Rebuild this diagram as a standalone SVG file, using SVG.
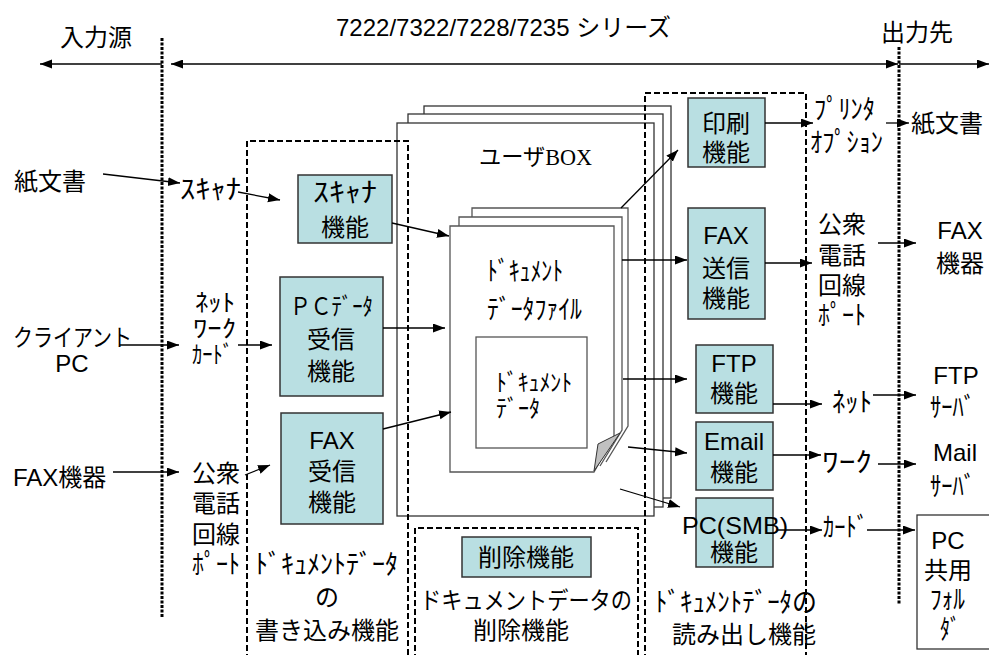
<svg xmlns="http://www.w3.org/2000/svg" width="989" height="655" viewBox="0 0 989 655">
<defs>
<style>
text{font-family:"Liberation Sans","Noto Sans CJK JP",sans-serif;font-size:24px;fill:#000;dominant-baseline:central}
.m{text-anchor:middle}
.h{font-size:27px}
.k{font-size:24px}
.s{font-family:"Liberation Serif","Noto Sans CJK JP",serif;font-size:23px}
.fn{fill:#b9dfe2;stroke:#333;stroke-width:1.5}
.pg{fill:#fff;stroke:#333;stroke-width:1.3}
.dp{fill:#fff;stroke:#555;stroke-width:1.3}
.dot{fill:none;stroke:#000;stroke-width:3;stroke-dasharray:3 1.5}
.dash{fill:none;stroke:#000;stroke-width:2;stroke-dasharray:6 3}
.c{fill:none;stroke:#000;stroke-width:1.3;marker-end:url(#ah)}
</style>
<marker id="ah" markerUnits="userSpaceOnUse" markerWidth="13" markerHeight="10" refX="12" refY="4.5" orient="auto"><path d="M0,0 L12,4.5 L0,9 z" fill="#000"/></marker>
<marker id="ahs" markerUnits="userSpaceOnUse" markerWidth="8" markerHeight="7" refX="7" refY="3" orient="auto"><path d="M0,0 L7,3 L0,6 z" fill="#000"/></marker>
<marker id="as" markerUnits="userSpaceOnUse" markerWidth="13" markerHeight="10" refX="0" refY="4.5" orient="auto"><path d="M12,0 L0,4.5 L12,9 z" fill="#000"/></marker>
</defs>

<!-- headers -->
<g id="headers">
<text x="96" y="37" class="m">入力源</text>
<text x="336" y="27" font-size="23">7222/7322/7228/7235 シリーズ</text>
<text x="917" y="32" class="m">出力先</text>
</g>

<!-- divider lines -->
<g id="dividers">
<line x1="162" y1="38" x2="162" y2="617" class="dot"/>
<line x1="899" y1="47" x2="899" y2="605" class="dot"/>
</g>

<!-- user box stack -->
<g id="userbox">
<rect x="424" y="106" width="247" height="392" class="pg"/>
<rect x="408" y="114" width="255" height="393" class="pg"/>
<rect x="397" y="123" width="257" height="393" class="pg"/>
<text x="479" y="157" class="s" textLength="113" lengthAdjust="spacingAndGlyphs">ユーザBOX</text>
</g>

<!-- document data file stack -->
<g id="docfile">
<path d="M472,217 V208 H628 V426 L606,462" class="dp"/>
<path d="M459,226 V217 H622 V430 L600,466" class="dp"/>
<path d="M450,226 H614 V436 L594,472 H450 Z" class="dp"/>
<path d="M598,444 L620,433 L594,471 Z" fill="#c0c0c0" stroke="#333" stroke-width="1"/>
<text x="487" y="272" class="h" textLength="76" lengthAdjust="spacingAndGlyphs">ﾄﾞｷｭﾒﾝﾄ</text>
<text x="487" y="310" class="h" textLength="95" lengthAdjust="spacingAndGlyphs">ﾃﾞｰﾀﾌｧｲﾙ</text>
</g>
<g id="docdata">
<rect x="476" y="337" width="111" height="111" fill="#fff" stroke="#555" stroke-width="1.3"/>
<text x="496" y="382" class="k" textLength="76" lengthAdjust="spacingAndGlyphs">ﾄﾞｷｭﾒﾝﾄ</text>
<text x="496" y="408" class="k" textLength="44" lengthAdjust="spacingAndGlyphs">ﾃﾞｰﾀ</text>
</g>

<!-- dashed function groups -->
<g id="writegroup">
<path d="M247,660 V141 H408 V660" class="dash"/>
<text x="255" y="565" class="h" textLength="143" lengthAdjust="spacingAndGlyphs">ﾄﾞｷｭﾒﾝﾄﾃﾞｰﾀ</text>
<text x="327" y="597" class="m">の</text>
<text x="327" y="630" class="m">書き込み機能</text>
</g>
<g id="deletegroup">
<path d="M415,660 V528 H638 V660" class="dash"/>
<text x="420" y="600" textLength="212" lengthAdjust="spacingAndGlyphs">ドキュメントデータの</text>
<text x="521" y="630" class="m">削除機能</text>
</g>
<g id="readgroup">
<path d="M645,660 V93 H806 V660" class="dash"/>
<text x="655" y="603" class="h" textLength="162" lengthAdjust="spacingAndGlyphs">ﾄﾞｷｭﾒﾝﾄﾃﾞｰﾀの</text>
<text x="744" y="634" class="m">読み出し機能</text>
</g>

<!-- function boxes -->
<g id="scan-fn">
<rect x="298" y="175" width="94" height="68" class="fn"/>
<text x="313" y="193" class="h" textLength="64" lengthAdjust="spacingAndGlyphs">ｽｷｬﾅ</text>
<text x="345" y="227" class="m">機能</text>
</g>
<g id="pc-recv-fn">
<rect x="280" y="277" width="103" height="119" class="fn"/>
<text x="290" y="306" textLength="83" lengthAdjust="spacingAndGlyphs">ＰＣﾃﾞｰﾀ</text>
<text x="331" y="339" class="m">受信</text>
<text x="331" y="371" class="m">機能</text>
</g>
<g id="fax-recv-fn">
<rect x="281" y="413" width="102" height="111" class="fn"/>
<text x="332" y="440" class="m">FAX</text>
<text x="332" y="471" class="m">受信</text>
<text x="332" y="502" class="m">機能</text>
</g>
<g id="delete-fn">
<rect x="462" y="537" width="129" height="40" class="fn"/>
<text x="526" y="557" class="m">削除機能</text>
</g>
<g id="print-fn">
<rect x="688" y="98" width="77" height="69" class="fn"/>
<text x="726" y="123" class="m">印刷</text>
<text x="726" y="152" class="m">機能</text>
</g>
<g id="fax-send-fn">
<rect x="688" y="208" width="77" height="111" class="fn"/>
<text x="726" y="235" class="m">FAX</text>
<text x="726" y="268" class="m">送信</text>
<text x="726" y="298" class="m">機能</text>
</g>
<g id="ftp-fn">
<rect x="696" y="345" width="77" height="68" class="fn"/>
<text x="734" y="363" class="m">FTP</text>
<text x="734" y="393" class="m">機能</text>
</g>
<g id="email-fn">
<rect x="696" y="422" width="77" height="68" class="fn"/>
<text x="734" y="441" class="m">Email</text>
<text x="734" y="472" class="m">機能</text>
</g>
<g id="smb-fn">
<rect x="696" y="498" width="77" height="69" class="fn"/>
<text x="682" y="525" textLength="106" lengthAdjust="spacingAndGlyphs">PC(SMB)</text>
<text x="734" y="552" class="m">機能</text>
</g>

<!-- sources and ports -->
<g id="src-paper"><text x="50" y="181" class="m">紙文書</text></g>
<g id="src-client"><text x="13" y="337" textLength="119" lengthAdjust="spacingAndGlyphs">クライアント</text><text x="72" y="363" class="m">PC</text></g>
<g id="src-fax"><text x="13" y="477">FAX機器</text></g>
<g id="port-scanner"><text x="180" y="190" class="h" textLength="61" lengthAdjust="spacingAndGlyphs">ｽｷｬﾅ</text></g>
<g id="port-nic-in">
<text x="195" y="302" class="k" textLength="40" lengthAdjust="spacingAndGlyphs">ﾈｯﾄ</text>
<text x="193" y="328" class="k" textLength="43" lengthAdjust="spacingAndGlyphs">ﾜｰｸ</text>
<text x="192" y="354" class="k" textLength="41" lengthAdjust="spacingAndGlyphs">ｶｰﾄﾞ</text>
</g>
<g id="port-tel-in">
<text x="216" y="473" class="m">公衆</text>
<text x="216" y="503" class="m">電話</text>
<text x="216" y="534" class="m">回線</text>
<text x="192" y="565" class="h" textLength="48" lengthAdjust="spacingAndGlyphs">ﾎﾟｰﾄ</text>
</g>
<g id="port-printer">
<text x="814" y="110" class="h" textLength="61" lengthAdjust="spacingAndGlyphs">ﾌﾟﾘﾝﾀ</text>
<text x="810" y="143" class="h" textLength="73" lengthAdjust="spacingAndGlyphs">ｵﾌﾟｼｮﾝ</text>
</g>
<g id="port-tel-out">
<text x="842" y="224" class="m">公衆</text>
<text x="842" y="255" class="m">電話</text>
<text x="842" y="285" class="m">回線</text>
<text x="818" y="316" class="h" textLength="48" lengthAdjust="spacingAndGlyphs">ﾎﾟｰﾄ</text>
</g>
<g id="port-nic-out">
<text x="832" y="403" class="h" textLength="40" lengthAdjust="spacingAndGlyphs">ﾈｯﾄ</text>
<text x="822" y="463" class="h" textLength="50" lengthAdjust="spacingAndGlyphs">ﾜｰｸ</text>
<text x="823" y="528" class="h" textLength="45" lengthAdjust="spacingAndGlyphs">ｶｰﾄﾞ</text>
</g>
<g id="dst-paper"><text x="947" y="123" class="m">紙文書</text></g>
<g id="dst-fax"><text x="960" y="230" class="m">FAX</text><text x="960" y="263" class="m">機器</text></g>
<g id="dst-ftp"><text x="956" y="375" class="m">FTP</text><text x="930" y="408" class="h" textLength="45" lengthAdjust="spacingAndGlyphs">ｻｰﾊﾞ</text></g>
<g id="dst-mail"><text x="955" y="452" class="m">Mail</text><text x="930" y="487" class="h" textLength="45" lengthAdjust="spacingAndGlyphs">ｻｰﾊﾞ</text></g>
<g id="dst-share">
<rect x="917" y="515" width="80" height="134" fill="#fff" stroke="#333" stroke-width="1.3"/>
<text x="948" y="540" class="m">PC</text>
<text x="948" y="570" class="m">共用</text>
<text x="930" y="600" class="h" textLength="35" lengthAdjust="spacingAndGlyphs">ﾌｫﾙ</text>
<text x="940" y="630" class="h" textLength="20" lengthAdjust="spacingAndGlyphs">ﾀﾞ</text>
</g>

<!-- connectors -->
<g id="connectors">
<line x1="162" y1="64" x2="40" y2="64" class="c" stroke-width="1.5"/>
<line x1="171" y1="64" x2="898" y2="64" class="c" stroke-width="1.5" marker-start="url(#as)"/>
<line x1="899" y1="64" x2="989" y2="64" class="c" stroke-width="1.5"/>
<line x1="103" y1="174" x2="180" y2="183" class="c"/>
<line x1="238" y1="192" x2="280" y2="200" class="c"/>
<line x1="120" y1="345" x2="179" y2="345" class="c"/>
<line x1="238" y1="345" x2="272" y2="345" class="c"/>
<line x1="113" y1="472" x2="179" y2="472" class="c"/>
<line x1="245" y1="475" x2="270" y2="465" class="c"/>
<line x1="392" y1="223" x2="449" y2="236" class="c"/>
<line x1="383" y1="328" x2="445" y2="328" class="c"/>
<line x1="383" y1="429" x2="451" y2="412" class="c" marker-end="url(#ahs)"/>
<line x1="621" y1="208" x2="678" y2="150" class="c"/>
<line x1="622" y1="260" x2="687" y2="260" class="c"/>
<line x1="623" y1="379" x2="687" y2="379" class="c"/>
<line x1="628" y1="447" x2="687" y2="453" class="c"/>
<line x1="620" y1="489" x2="680" y2="507" class="c"/>
<line x1="765" y1="123" x2="813" y2="123" class="c"/>
<line x1="886" y1="123" x2="909" y2="123" class="c"/>
<line x1="765" y1="263" x2="812" y2="263" class="c"/>
<line x1="878" y1="243" x2="916" y2="243" class="c"/>
<line x1="773" y1="404" x2="822" y2="404" class="c"/>
<line x1="873" y1="395" x2="916" y2="395" class="c"/>
<line x1="773" y1="455" x2="821" y2="455" class="c"/>
<line x1="878" y1="464" x2="916" y2="464" class="c"/>
<line x1="777" y1="530" x2="822" y2="530" class="c"/>
<line x1="867" y1="530" x2="915" y2="530" class="c"/>
</g>
</svg>
